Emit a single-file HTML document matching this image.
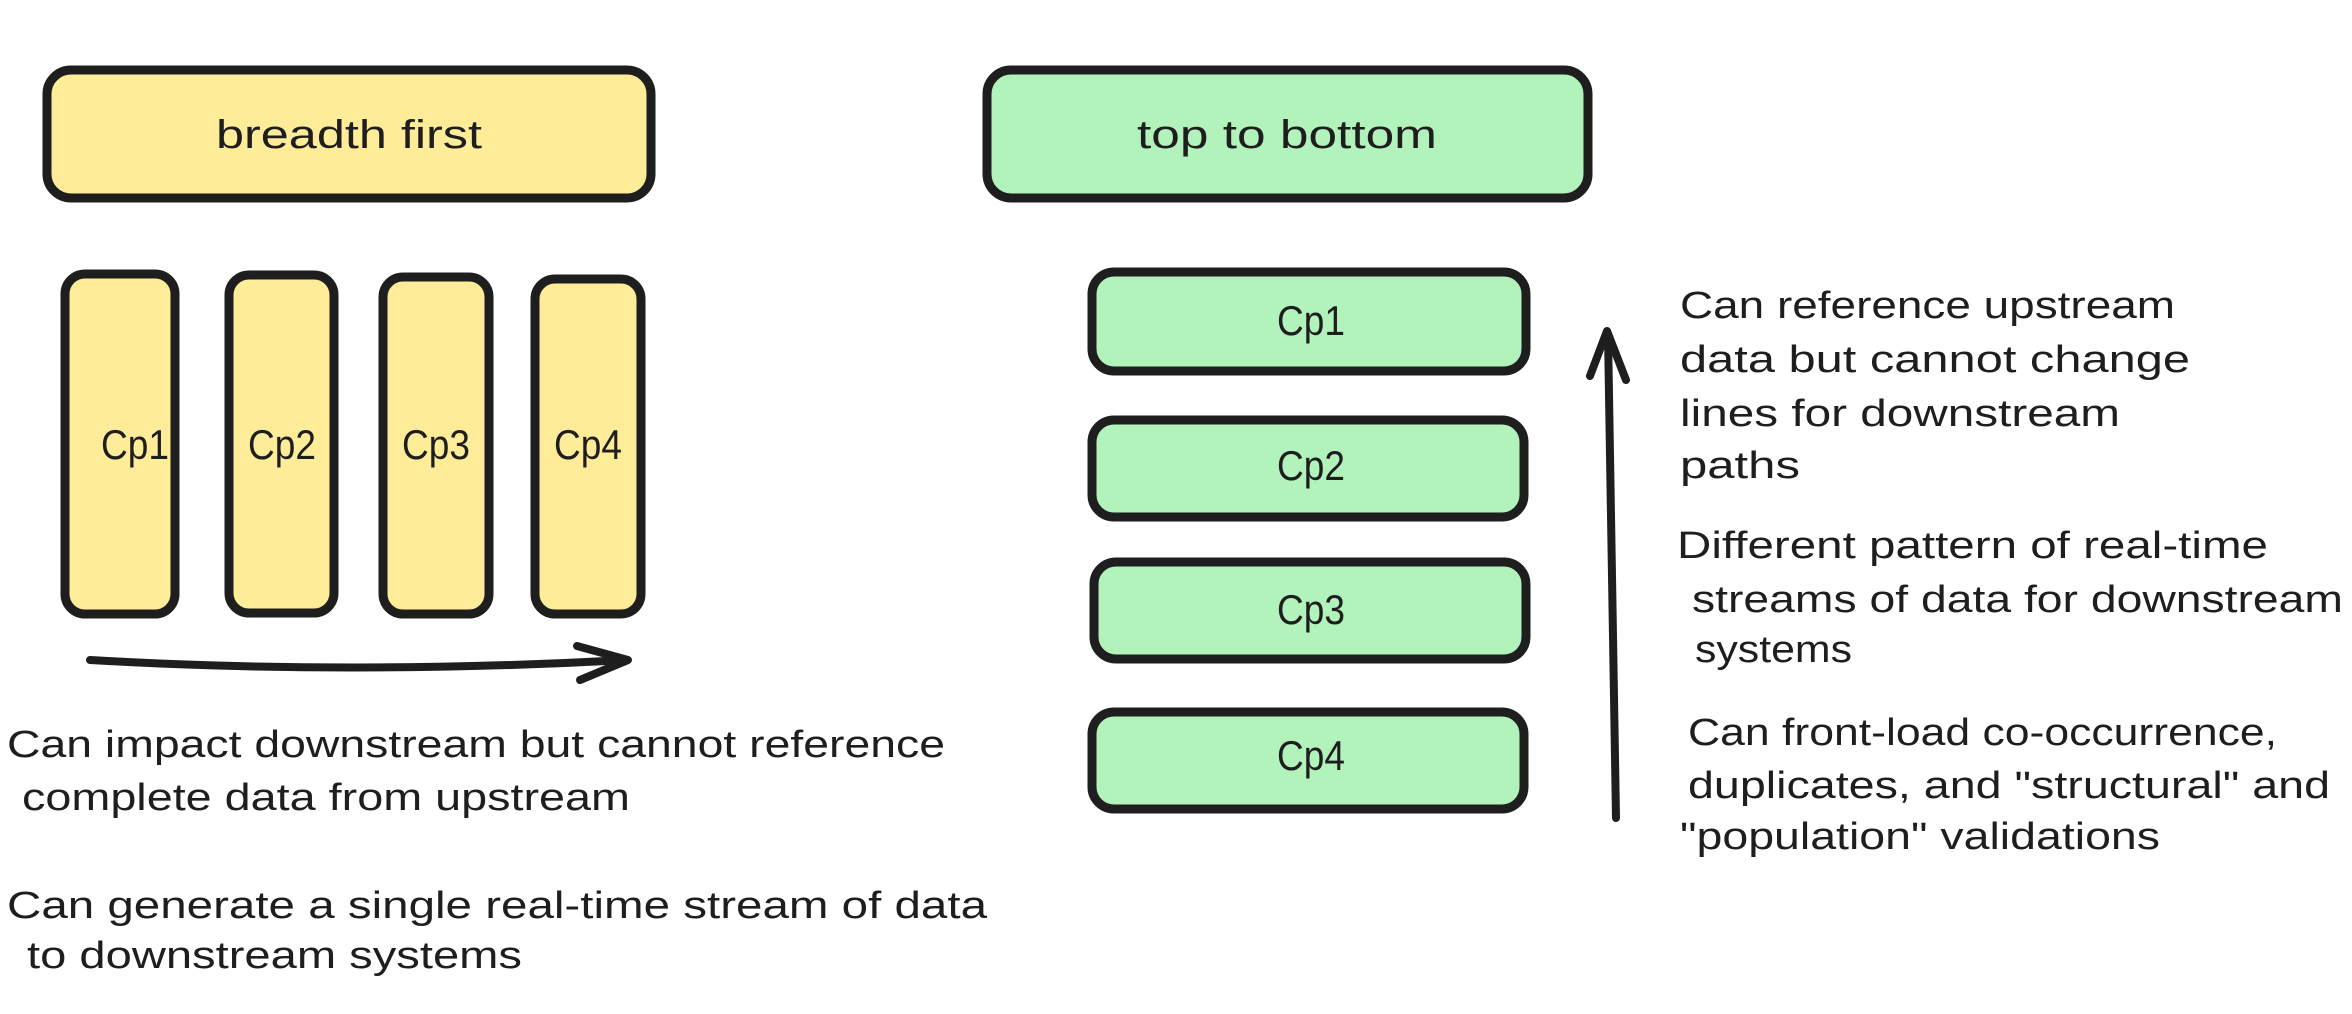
<!DOCTYPE html>
<html><head><meta charset="utf-8"><style>html,body{margin:0;padding:0;background:#fff}svg{display:block}</style></head>
<body>
<svg width="2352" height="1014" viewBox="0 0 2352 1014" xmlns="http://www.w3.org/2000/svg">
<g stroke="#1e1e1e" stroke-width="9" stroke-linejoin="round">
<rect x="47" y="70" width="604" height="128" rx="24" fill="#ffec99"/>
<rect x="65" y="274" width="110" height="340" rx="20" fill="#ffec99"/>
<rect x="229" y="275" width="105" height="338" rx="20" fill="#ffec99"/>
<rect x="383" y="277" width="106" height="337" rx="20" fill="#ffec99"/>
<rect x="535" y="279" width="106" height="335" rx="20" fill="#ffec99"/>
<rect x="987" y="70" width="601" height="128" rx="24" fill="#b2f2bb"/>
<rect x="1092" y="272" width="434" height="99" rx="22" fill="#b2f2bb"/>
<rect x="1092" y="420" width="432" height="97" rx="22" fill="#b2f2bb"/>
<rect x="1094" y="562" width="432" height="97" rx="22" fill="#b2f2bb"/>
<rect x="1092" y="712" width="432" height="97" rx="22" fill="#b2f2bb"/>
</g>
<g stroke="#1e1e1e" stroke-width="8" fill="none" stroke-linecap="round" stroke-linejoin="round">
<path d="M90 660 Q350 675 627 660"/>
<path d="M577 646 L628 660 L580 680"/>
<path d="M1616 818 L1608 334"/>
<path d="M1590 376 L1607 331 L1626 380"/>
</g>
<g font-family="Liberation Sans, sans-serif" fill="#1e1e1e" font-size="38">
<text x="349" y="148" text-anchor="middle" textLength="266" lengthAdjust="spacingAndGlyphs" font-size="40">breadth first</text>
<text x="1287" y="148" text-anchor="middle" textLength="300" lengthAdjust="spacingAndGlyphs" font-size="40">top to bottom</text>
<g font-size="42">
<text x="135" y="459" text-anchor="middle" textLength="68" lengthAdjust="spacingAndGlyphs">Cp1</text>
<text x="282" y="459" text-anchor="middle" textLength="68" lengthAdjust="spacingAndGlyphs">Cp2</text>
<text x="436" y="459" text-anchor="middle" textLength="68" lengthAdjust="spacingAndGlyphs">Cp3</text>
<text x="588" y="459" text-anchor="middle" textLength="68" lengthAdjust="spacingAndGlyphs">Cp4</text>
<text x="1311" y="335" text-anchor="middle" textLength="68" lengthAdjust="spacingAndGlyphs">Cp1</text>
<text x="1311" y="480" text-anchor="middle" textLength="68" lengthAdjust="spacingAndGlyphs">Cp2</text>
<text x="1311" y="624" text-anchor="middle" textLength="68" lengthAdjust="spacingAndGlyphs">Cp3</text>
<text x="1311" y="770" text-anchor="middle" textLength="68" lengthAdjust="spacingAndGlyphs">Cp4</text>
</g>
<text x="7" y="757" textLength="938" lengthAdjust="spacingAndGlyphs">Can impact downstream but cannot reference</text>
<text x="22" y="810" textLength="608" lengthAdjust="spacingAndGlyphs">complete data from upstream</text>
<text x="7" y="918" textLength="980" lengthAdjust="spacingAndGlyphs">Can generate a single real-time stream of data</text>
<text x="27" y="968" textLength="495" lengthAdjust="spacingAndGlyphs">to downstream systems</text>
<text x="1680" y="318" textLength="495" lengthAdjust="spacingAndGlyphs">Can reference upstream</text>
<text x="1680" y="372" textLength="510" lengthAdjust="spacingAndGlyphs">data but cannot change</text>
<text x="1680" y="426" textLength="440" lengthAdjust="spacingAndGlyphs">lines for downstream</text>
<text x="1680" y="478" textLength="120" lengthAdjust="spacingAndGlyphs">paths</text>
<text x="1677" y="558" textLength="591" lengthAdjust="spacingAndGlyphs">Different pattern of real-time</text>
<text x="1692" y="612" textLength="651" lengthAdjust="spacingAndGlyphs">streams of data for downstream</text>
<text x="1695" y="662" textLength="157" lengthAdjust="spacingAndGlyphs">systems</text>
<text x="1688" y="745" textLength="589" lengthAdjust="spacingAndGlyphs">Can front-load co-occurrence,</text>
<text x="1688" y="798" textLength="642" lengthAdjust="spacingAndGlyphs">duplicates, and "structural" and</text>
<text x="1680" y="849" textLength="480" lengthAdjust="spacingAndGlyphs">"population" validations</text>
</g>
</svg>
</body></html>
